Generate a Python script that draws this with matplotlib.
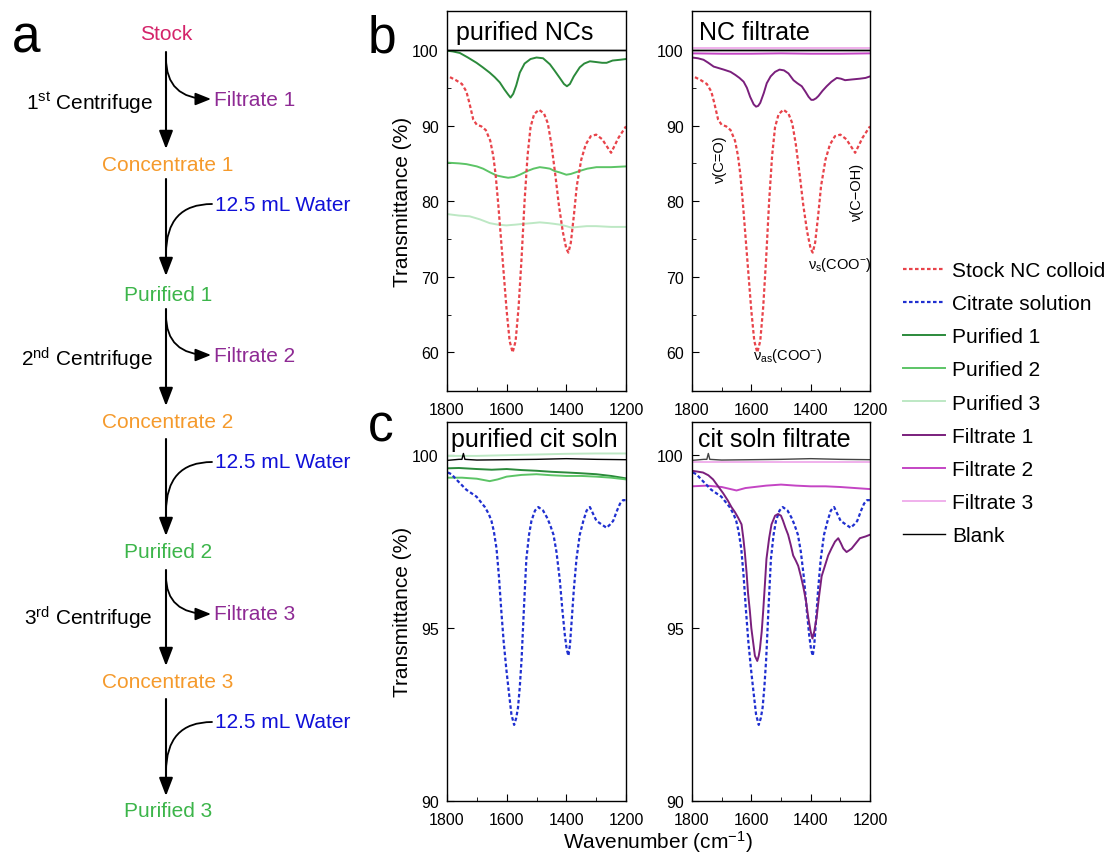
#!/usr/bin/env python3
"""
FTIR of NC purification: flowchart (a), NC spectra (b), citrate solution spectra (c).
"""
import matplotlib
matplotlib.use('Agg')
import matplotlib.pyplot as plt

plt.rcParams['font.family'] = ['Liberation Sans', 'DejaVu Sans']
plt.rcParams['mathtext.fontset'] = 'custom'
plt.rcParams['mathtext.rm'] = 'Liberation Sans'
plt.rcParams['mathtext.it'] = 'Liberation Sans:italic'
plt.rcParams['mathtext.bf'] = 'Liberation Sans:bold'

# ---- data (wavenumber in cm-1, transmittance in %) ----
stock_wn = [1790, 1770, 1750, 1735, 1725, 1712, 1700, 1685, 1670, 1655, 1645, 1637, 1628, 1620,
            1610, 1600, 1590, 1580, 1570, 1560, 1550, 1540, 1530, 1520, 1508, 1492, 1475, 1462,
            1450, 1437, 1425, 1412, 1400, 1393, 1385, 1375, 1365, 1350, 1335, 1318, 1300, 1280,
            1265, 1250, 1240, 1225, 1200]
stock_t = [96.4, 96.0, 95.5, 94.5, 93.0, 90.8, 90.1, 89.9, 89.4, 88.0, 86.0, 83.5, 79.5, 75.5,
           70.5, 65.5, 61.5, 60.0, 61.5, 66.0, 72.5, 80.0, 86.0, 89.8, 91.5, 92.1, 91.6, 90.3,
           87.5, 83.5, 79.5, 76.0, 73.7, 73.2, 74.5, 78.0, 82.0, 85.5, 87.5, 88.6, 88.8, 88.2,
           87.3, 86.4, 87.2, 88.4, 89.9]

pur1_wn = [1800, 1780, 1757, 1730, 1701, 1680, 1657, 1640, 1623, 1608, 1595, 1587, 1578, 1568,
           1556, 1540, 1520, 1500, 1478, 1455, 1440, 1422, 1408, 1398, 1388, 1375, 1355, 1340,
           1321, 1300, 1280, 1265, 1245, 1220, 1200]
pur1_t = [99.9, 99.8, 99.6, 99.0, 98.3, 97.7, 97.0, 96.4, 95.7, 94.8, 94.1, 93.7, 94.2, 95.3,
          97.0, 98.2, 98.8, 99.0, 98.9, 98.1, 97.3, 96.3, 95.5, 95.2, 95.5, 96.5, 97.7, 98.2,
          98.5, 98.4, 98.3, 98.3, 98.6, 98.7, 98.8]

pur2_wn = [1800, 1760, 1735, 1700, 1679, 1655, 1634, 1610, 1595, 1575, 1556, 1530, 1510, 1489,
           1470, 1455, 1440, 1422, 1400, 1385, 1370, 1355, 1330, 1299, 1250, 1200]
pur2_t = [85.1, 85.0, 84.9, 84.6, 84.3, 83.8, 83.4, 83.2, 83.1, 83.2, 83.5, 84.0, 84.3, 84.5,
          84.4, 84.3, 84.0, 83.8, 83.5, 83.6, 83.8, 84.0, 84.3, 84.5, 84.5, 84.6]

pur3_wn = [1800, 1760, 1724, 1690, 1657, 1630, 1601, 1570, 1545, 1515, 1489, 1460, 1440, 1422,
           1400, 1383, 1360, 1332, 1300, 1250, 1200]
pur3_t = [78.3, 78.1, 78.0, 77.6, 77.1, 76.9, 76.8, 76.9, 77.0, 77.1, 77.2, 77.1, 77.0, 76.9,
          76.7, 76.5, 76.6, 76.7, 76.7, 76.6, 76.6]

fil1_wn = [1800, 1780, 1761, 1745, 1727, 1710, 1693, 1670, 1654, 1640, 1626, 1615, 1604, 1592,
           1584, 1577, 1570, 1558, 1548, 1535, 1520, 1505, 1490, 1475, 1458, 1445, 1430, 1418,
           1407, 1398, 1391, 1382, 1374, 1360, 1346, 1330, 1312, 1298, 1284, 1260, 1234, 1215,
           1200]
fil1_t = [99.0, 98.9, 98.7, 98.3, 97.8, 97.6, 97.4, 97.1, 96.7, 96.3, 95.8, 95.0, 93.8, 92.8,
          92.5, 92.6, 93.0, 94.3, 95.6, 96.5, 97.1, 97.4, 97.3, 96.9, 96.0, 95.6, 95.2, 94.5,
          93.8, 93.4, 93.4, 93.6, 93.9, 94.6, 95.2, 95.8, 96.3, 96.2, 96.0, 96.1, 96.2, 96.3,
          96.5]

fil2_wn = [1800, 1700, 1600, 1500, 1400, 1300, 1200]
fil2_t = [99.55, 99.5, 99.5, 99.55, 99.5, 99.5, 99.55]
fil3_wn = [1800, 1600, 1400, 1200]
fil3_t = [100.2, 100.2, 100.2, 100.2]
blank_b_wn = [1800, 1200]
blank_b_t = [100.0, 100.0]

# panel c (citrate solution)
cit_wn = [1797, 1785, 1769, 1752, 1735, 1718, 1701, 1687, 1673, 1660, 1651, 1643, 1634, 1626,
          1618, 1610, 1601, 1592, 1584, 1575, 1568, 1562, 1556, 1550, 1542, 1534, 1525, 1517,
          1505, 1494, 1478, 1465, 1455, 1443, 1433, 1422, 1413, 1405, 1399, 1393, 1388, 1383,
          1375, 1366, 1355, 1343, 1332, 1321, 1310, 1299, 1282, 1265, 1253, 1243, 1230, 1220,
          1210, 1200]
cit_t = [99.5, 99.45, 99.3, 99.15, 99.0, 98.9, 98.8, 98.65, 98.5, 98.3, 98.1, 97.8, 97.3, 96.5,
         95.5, 94.6, 93.8, 93.1, 92.5, 92.2, 92.4, 92.7, 93.3, 94.1, 95.6, 97.0, 97.7, 98.1,
         98.4, 98.5, 98.4, 98.2, 98.0, 97.7, 97.2, 96.4, 95.5, 94.8, 94.4, 94.2, 94.5, 95.1,
         96.1, 97.0, 97.7, 98.1, 98.4, 98.5, 98.3, 98.1, 98.0, 97.9, 98.0, 98.1, 98.4, 98.6,
         98.7, 98.7]

cpur1_wn = [1800, 1760, 1700, 1650, 1600, 1550, 1500, 1450, 1400, 1355, 1300, 1250, 1200]
cpur1_t = [99.62, 99.63, 99.6, 99.58, 99.6, 99.57, 99.55, 99.52, 99.5, 99.48, 99.45, 99.4, 99.33]
cpur2_wn = [1800, 1750, 1700, 1657, 1630, 1600, 1550, 1500, 1450, 1400, 1350, 1300, 1250, 1200]
cpur2_t = [99.35, 99.35, 99.32, 99.25, 99.3, 99.38, 99.43, 99.45, 99.42, 99.4, 99.4, 99.38,
           99.35, 99.3]
cpur3_wn = [1800, 1700, 1600, 1500, 1400, 1300, 1200]
cpur3_t = [99.98, 99.98, 100.0, 100.02, 100.04, 100.05, 100.05]

cfil1_wn = [1800, 1763, 1745, 1729, 1712, 1695, 1680, 1667, 1655, 1645, 1633, 1627, 1622, 1616,
            1611, 1605, 1600, 1594, 1588, 1580, 1575, 1571, 1565, 1560, 1554, 1549, 1540, 1532,
            1520, 1510, 1500, 1493, 1485, 1476, 1467, 1459, 1450, 1442, 1433, 1425, 1416, 1408,
            1400, 1394, 1388, 1380, 1372, 1363, 1352, 1341, 1330, 1318, 1307, 1298, 1290, 1279,
            1270, 1262, 1248, 1234, 1215, 1200]
cfil1_t = [99.55, 99.5, 99.42, 99.3, 99.1, 98.9, 98.7, 98.5, 98.35, 98.2, 98.0, 97.6, 97.2, 96.6,
           96.0, 95.5, 95.0, 94.6, 94.2, 94.05, 94.2, 94.4, 94.9, 95.5, 96.3, 97.0, 97.6, 98.0,
           98.25, 98.3, 98.25, 98.1, 97.9, 97.7, 97.4, 97.1, 96.95, 96.8, 96.5, 96.2, 95.8, 95.3,
           94.9, 94.7, 94.9, 95.3, 95.9, 96.5, 96.8, 97.1, 97.3, 97.5, 97.6, 97.45, 97.3, 97.2,
           97.25, 97.3, 97.45, 97.6, 97.65, 97.7]
cfil2_wn = [1800, 1750, 1700, 1660, 1650, 1620, 1550, 1500, 1450, 1400, 1350, 1300, 1250, 1200]
cfil2_t = [99.1, 99.12, 99.08, 99.0, 98.98, 99.05, 99.12, 99.15, 99.12, 99.1, 99.1, 99.08,
           99.05, 99.02]
cfil3_wn = [1800, 1600, 1400, 1200]
cfil3_t = [99.8, 99.8, 99.8, 99.8]
cblank_wn = [1800, 1760, 1750, 1745, 1740, 1700, 1600, 1500, 1400, 1300, 1200]
cblank_t = [99.85, 99.88, 99.88, 100.05, 99.88, 99.86, 99.87, 99.88, 99.9, 99.88, 99.87]

# ---- styles ----
C_STOCK = '#e8434a'
C_CIT = '#1f2fd0'
C_P1 = '#2b8a3b'
C_P2 = '#5cc466'
C_P3 = '#bde8c4'
C_F1 = '#7a1f7c'
C_F2 = '#c445c4'
C_F3 = '#f0b0ec'
DOT = (0, (1.6, 1.1))
LW = 1.4

W, H = 1119, 853
fig = plt.figure(figsize=(W / 100, H / 100), dpi=100)

# ---- panel a: flowchart drawn in pixel coordinates ----
ax0 = fig.add_axes([0, 0, 1, 1])
ax0.set_xlim(0, W)
ax0.set_ylim(H, 0)
ax0.axis('off')

FS = 15
XC = 166
ax0.text(XC, 34, 'Stock', color='#d4246a', fontsize=FS, ha='center', va='center')
steps = [  # (top y of arrow, tip y, filtrate/water, label, side label, label y)
    (53, 150, 'fil', 'Filtrate 1', '1$^{\\rm st}$ Centrifuge', 100),
    (180, 277, 'wat', '12.5 mL Water', None, 205),
    (310, 407, 'fil', 'Filtrate 2', '2$^{\\rm nd}$ Centrifuge', 356),
    (440, 537, 'wat', '12.5 mL Water', None, 463),
    (571, 667, 'fil', 'Filtrate 3', '3$^{\\rm rd}$ Centrifuge', 615),
    (700, 797, 'wat', '12.5 mL Water', None, 723),
]
for y0, y1, kind, lab, side, yl in steps:
    ax0.annotate('', xy=(XC, y1), xytext=(XC, y0),
                 arrowprops=dict(arrowstyle='-|>,head_length=1.1,head_width=0.42',
                                 color='k', lw=1.5, shrinkA=0, shrinkB=0))
    if kind == 'fil':
        ax0.annotate('', xy=(211, yl), xytext=(XC, y0 + 6),
                     arrowprops=dict(arrowstyle='-|>,head_length=0.95,head_width=0.38',
                                     color='k', lw=1.3, shrinkA=0, shrinkB=0,
                                     connectionstyle='angle3,angleA=90,angleB=0'))
        ax0.text(214, yl, lab, color='#8e2a94', fontsize=FS, ha='left', va='center')
        ax0.text(153, yl + 3, side, color='k', fontsize=FS, ha='right', va='center')
    else:
        ax0.annotate('', xy=(XC, yl + 50), xytext=(212, yl),
                     arrowprops=dict(arrowstyle='-', color='k', lw=1.3, shrinkA=0, shrinkB=0,
                                     connectionstyle='angle3,angleA=0,angleB=90'))
        ax0.text(215, yl, lab, color='#1010d8', fontsize=FS, ha='left', va='center')
for y, lab, col in [(165, 'Concentrate 1', '#f59a2c'), (295, 'Purified 1', '#3cb54a'),
                    (422, 'Concentrate 2', '#f59a2c'), (552, 'Purified 2', '#3cb54a'),
                    (682, 'Concentrate 3', '#f59a2c'), (812, 'Purified 3', '#3cb54a')]:
    ax0.text(XC + 2, y, lab, color=col, fontsize=FS, ha='center', va='center')

for lab, x, y in [('a', 12, 52), ('b', 368, 52), ('c', 368, 442)]:
    ax0.text(x, y, lab, fontsize=37, ha='left', va='baseline')


# ---- spectra axes ----
def px_axes(x0, x1, ytop, ybot):
    return fig.add_axes([x0 / W, 1 - ybot / H, (x1 - x0) / W, (ybot - ytop) / H])


def style(ax, ylim, yticks, yminor):
    ax.set_xlim(1800, 1200)
    ax.set_ylim(*ylim)
    ax.set_xticks([1800, 1600, 1400, 1200])
    ax.set_xticks([1700, 1500, 1300], minor=True)
    ax.set_yticks(yticks)
    ax.set_yticks(yminor, minor=True)
    ax.tick_params(which='both', direction='in', top=False, right=False, labelsize=11.5)
    ax.tick_params(which='major', length=5)
    ax.tick_params(which='minor', length=3)
    ax.tick_params(axis='x', which='major', pad=8)
    ax.tick_params(axis='y', which='major', pad=6)
    for s in ax.spines.values():
        s.set_linewidth(1.0)


axb1 = px_axes(447, 626, 12, 392)
axb2 = px_axes(692, 870, 12, 392)
axc1 = px_axes(447, 626, 423, 802)
axc2 = px_axes(692, 870, 423, 802)

for ax in (axb1, axb2):
    style(ax, (54.9, 105.15), [60, 70, 80, 90, 100], [65, 75, 85, 95])
    ax.axhline(100, color='k', lw=1.0, zorder=5)
for ax in (axc1, axc2):
    style(ax, (90, 100.96), [90, 95, 100], [])

# b: purified NCs
h_p3, = axb1.plot(pur3_wn, pur3_t, color=C_P3, lw=LW, label='Purified 3')
h_p2, = axb1.plot(pur2_wn, pur2_t, color=C_P2, lw=LW, label='Purified 2')
h_st, = axb1.plot(stock_wn, stock_t, color=C_STOCK, lw=1.6, ls=DOT, label='Stock NC colloid')
h_p1, = axb1.plot(pur1_wn, pur1_t, color=C_P1, lw=LW, label='Purified 1')
h_bl, = axb1.plot(blank_b_wn, blank_b_t, color='k', lw=1.0, label='Blank')

# b: NC filtrate
h_f3, = axb2.plot(fil3_wn, fil3_t, color=C_F3, lw=LW, label='Filtrate 3')
axb2.plot(blank_b_wn, blank_b_t, color='k', lw=1.0)
h_f2, = axb2.plot(fil2_wn, fil2_t, color=C_F2, lw=LW, label='Filtrate 2')
axb2.plot(stock_wn, stock_t, color=C_STOCK, lw=1.6, ls=DOT)
h_f1, = axb2.plot(fil1_wn, fil1_t, color=C_F1, lw=LW, label='Filtrate 1')

ann = dict(fontsize=10.5, color='k')
axb2.text(1706, 85.7, 'ν(C=O)', rotation=90, ha='center', va='center', **ann)
axb2.text(1244, 81.3, 'ν(C−OH)', rotation=90, ha='center', va='center', **ann)
axb2.text(1409, 71.7, 'ν$_{\\rm s}$(COO$^{-}$)', ha='left', va='center', **ann)
axb2.text(1594, 59.7, 'ν$_{\\rm as}$(COO$^{-}$)', ha='left', va='center', **ann)

# c: purified citrate solution
axc1.plot(cpur3_wn, cpur3_t, color=C_P3, lw=LW)
axc1.plot(cblank_wn, cblank_t, color='k', lw=1.0)
axc1.plot(cpur1_wn, cpur1_t, color=C_P1, lw=LW)
axc1.plot(cpur2_wn, cpur2_t, color=C_P2, lw=LW)
h_ci, = axc1.plot(cit_wn, cit_t, color=C_CIT, lw=1.6, ls=DOT, label='Citrate solution')

# c: citrate solution filtrate
axc2.plot(cblank_wn, cblank_t, color='#444444', lw=1.0)
axc2.plot(cfil3_wn, cfil3_t, color=C_F3, lw=LW)
axc2.plot(cfil2_wn, cfil2_t, color=C_F2, lw=LW)
axc2.plot(cit_wn, cit_t, color=C_CIT, lw=1.6, ls=DOT)
axc2.plot(cfil1_wn, cfil1_t, color=C_F1, lw=LW)

tfs = 18
axb1.text(0.05, 0.945, 'purified NCs', transform=axb1.transAxes, fontsize=tfs, va='center')
axb2.text(0.04, 0.945, 'NC filtrate', transform=axb2.transAxes, fontsize=tfs, va='center')
axc1.text(0.022, 0.955, 'purified cit soln', transform=axc1.transAxes, fontsize=tfs, va='center')
axc2.text(0.034, 0.955, 'cit soln filtrate', transform=axc2.transAxes, fontsize=tfs, va='center')

fig.text(402 / W, 1 - 202 / H, 'Transmittance (%)', rotation=90, fontsize=15,
         ha='center', va='center')
fig.text(402 / W, 1 - 612 / H, 'Transmittance (%)', rotation=90, fontsize=15,
         ha='center', va='center')
fig.text(658 / W, 1 - 842 / H, 'Wavenumber (cm$^{-1}$)', fontsize=15, ha='center', va='center')

handles = [h_st, h_ci, h_p1, h_p2, h_p3, h_f1, h_f2, h_f3, h_bl]
fig.legend(handles=handles, labels=[h.get_label() for h in handles], loc='upper left',
           bbox_to_anchor=(903 / W, 1 - 262 / H), frameon=False, fontsize=15,
           handlelength=2.0, handletextpad=0.35, labelspacing=0.68, borderpad=0,
           borderaxespad=0)

plt.savefig('out.png', dpi=100)
plt.close()
